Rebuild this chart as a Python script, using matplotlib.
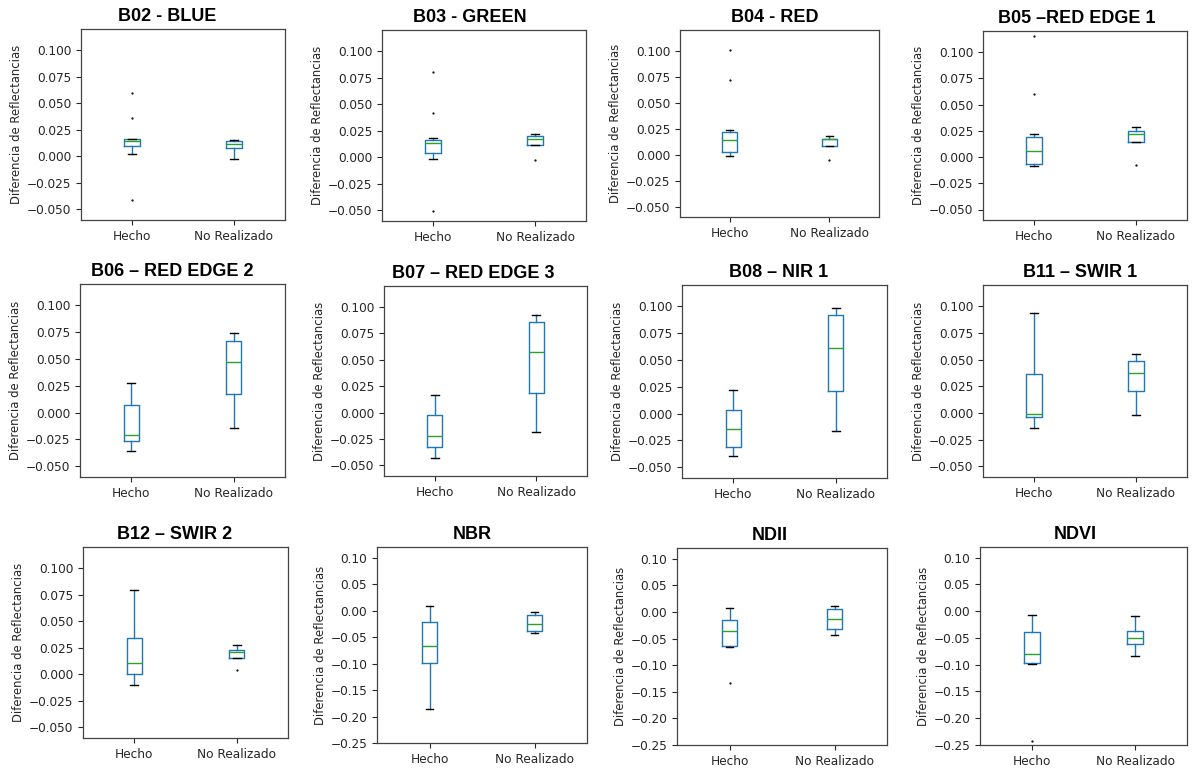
import matplotlib
matplotlib.use("Agg")
import matplotlib.pyplot as plt

# ---------------- data ----------------
titles = ["B02 - BLUE", "B03 - GREEN", "B04 - RED", "B05 \u2013RED EDGE 1",
          "B06 \u2013 RED EDGE 2", "B07 \u2013 RED EDGE 3", "B08 \u2013 NIR 1", "B11 \u2013 SWIR 1",
          "B12 \u2013 SWIR 2", "NBR", "NDII", "NDVI"]
categories = ["Hecho", "No Realizado"]
ylabel = "Diferencia de Reflectancias"

# Hecho
h_q1 = [0.0097, 0.0041, 0.0026, -0.0070, -0.0260, -0.0323, -0.0313, -0.0035, 0.0006, -0.0982, -0.0640, -0.0963]
h_med = [0.0141, 0.0132, 0.0142, 0.0054, -0.0210, -0.0222, -0.0147, -0.0013, 0.0106, -0.0663, -0.0357, -0.0800]
h_q3 = [0.0166, 0.0164, 0.0216, 0.0187, 0.0075, -0.0022, 0.0031, 0.0367, 0.0341, -0.0213, -0.0157, -0.0388]
h_lo = [0.0022, -0.0013, -0.0016, -0.0082, -0.0357, -0.0434, -0.0391, -0.0145, -0.0103, -0.1850, -0.0658, -0.0981]
h_hi = [0.0166, 0.0180, 0.0239, 0.0219, 0.0276, 0.0165, 0.0222, 0.0935, 0.0795, 0.0094, 0.0069, -0.0069]
h_fliers = [[0.0600, 0.0358, -0.0414], [0.0800, 0.0419, -0.0504], [0.1008, 0.0721],
            [0.1151, 0.0599], [], [], [], [], [], [], [-0.1340], [-0.2430]]

# No Realizado
n_q1 = [0.0075, 0.0117, 0.0084, 0.0143, 0.0175, 0.0187, 0.0210, 0.0209, 0.0150, -0.0388, -0.0314, -0.0613]
n_med = [0.0119, 0.0176, 0.0152, 0.0219, 0.0476, 0.0571, 0.0610, 0.0376, 0.0210, -0.0250, -0.0132, -0.0494]
n_q3 = [0.0141, 0.0198, 0.0155, 0.0244, 0.0673, 0.0859, 0.0921, 0.0487, 0.0228, -0.0088, 0.0056, -0.0363]
n_lo = [-0.0025, 0.0117, 0.0084, 0.0143, -0.0144, -0.0181, -0.0157, -0.0022, 0.0150, -0.0432, -0.0433, -0.0844]
n_hi = [0.0154, 0.0217, 0.0184, 0.0285, 0.0742, 0.0922, 0.0990, 0.0556, 0.0272, -0.0019, 0.0119, -0.0088]
n_fliers = [[], [-0.0025], [-0.0052], [-0.0079], [], [], [], [], [0.0038], [], [], []]

# ---------------- layout (pixel boxes: left, top, right, bottom) ----------------
W, H = 1194, 768
boxes_px = [
    (81, 29, 285, 220), (382, 30, 586, 221), (680, 30, 879, 217), (983, 31, 1187, 220),
    (80, 284, 285, 477), (384, 286, 587, 476), (682, 285, 887, 478), (983, 285, 1187, 477),
    (83, 547, 288, 738), (377, 547, 587, 743), (677, 548, 887, 745), (980, 547, 1187, 745),
]
# horizontal offset of each title centre from its axes centre, in pixels
title_dx = [-16, -14, -5, -8, -10, -12, -6, -5, -11, -10, -12, -8]

fig = plt.figure(figsize=(W / 100, H / 100), dpi=100)

for i, title in enumerate(titles):
    l, t, r, b = boxes_px[i]
    ax = fig.add_axes([l / W, 1 - b / H, (r - l) / W, (b - t) / H])
    stats = [
        dict(label=categories[0], med=h_med[i], q1=h_q1[i], q3=h_q3[i],
             whislo=h_lo[i], whishi=h_hi[i], fliers=h_fliers[i]),
        dict(label=categories[1], med=n_med[i], q1=n_q1[i], q3=n_q3[i],
             whislo=n_lo[i], whishi=n_hi[i], fliers=n_fliers[i]),
    ]
    ax.bxp(stats, positions=[1, 2], widths=0.15,
           boxprops=dict(color="#1f77b4", linewidth=1.0),
           whiskerprops=dict(color="#1f77b4", linewidth=1.0),
           medianprops=dict(color="#2ca02c", linewidth=1.0),
           capprops=dict(color="black", linewidth=1.0),
           flierprops=dict(marker=".", markersize=1.2, markerfacecolor="black",
                           markeredgecolor="black", linestyle="none"))
    ax.set_xlim(0.5, 2.5)
    if i < 9:
        ax.set_ylim(-0.06, 0.12)
        ax.set_yticks([-0.05, -0.025, 0, 0.025, 0.05, 0.075, 0.1])
        ax.set_yticklabels(["\u22120.050", "\u22120.025", "0.000", "0.025", "0.050", "0.075", "0.100"])
    else:
        ax.set_ylim(-0.25, 0.12)
        ax.set_yticks([-0.25, -0.2, -0.15, -0.1, -0.05, 0, 0.05, 0.1])
        ax.set_yticklabels(["\u22120.25", "\u22120.20", "\u22120.15", "\u22120.10", "\u22120.05",
                            "0.00", "0.05", "0.10"])
    ax.tick_params(labelsize=8.7, colors="#262626", length=3.5, width=0.8)
    ax.set_ylabel(ylabel, fontsize=8.4, color="#262626", labelpad=2.5)
    ax.set_title(title, fontsize=13, fontweight="bold", family="Liberation Sans", pad=6,
                 x=0.5 + title_dx[i] / (r - l))
    for s in ax.spines.values():
        s.set_color("#444444")
        s.set_linewidth(0.9)

fig.savefig("out.png", dpi=100)
